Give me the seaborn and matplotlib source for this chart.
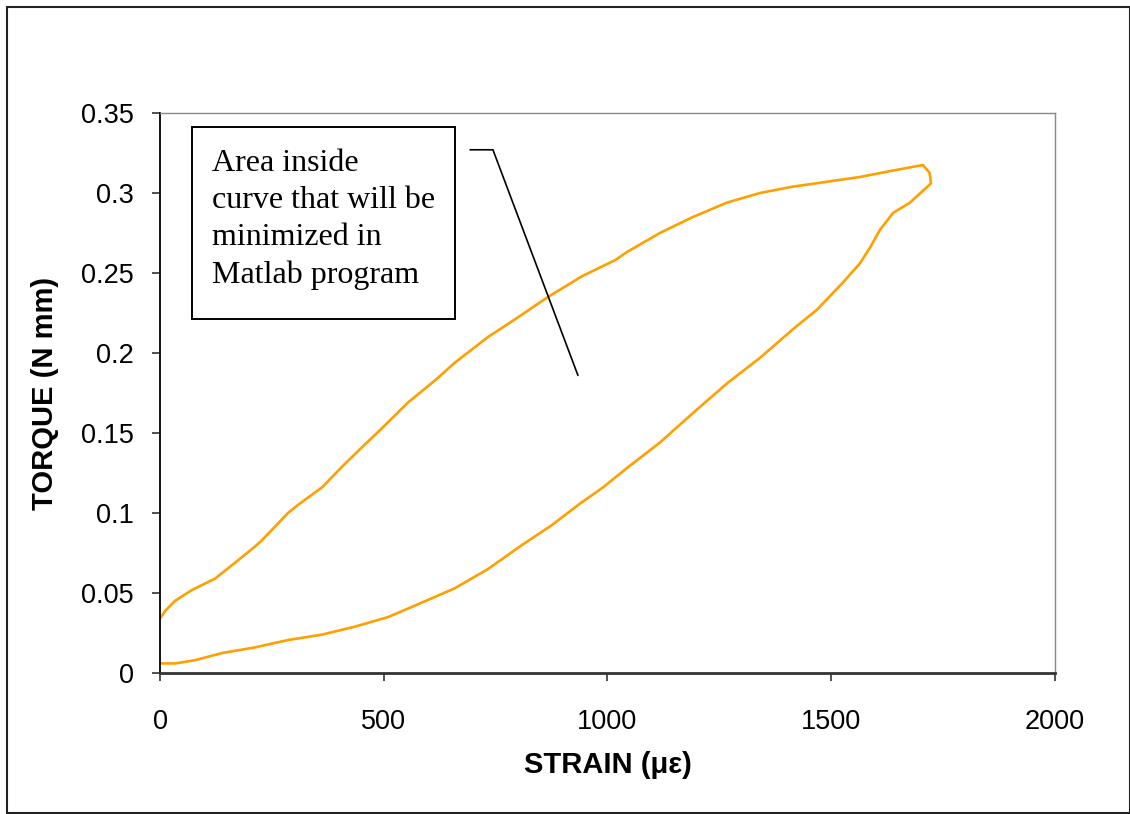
import matplotlib
matplotlib.use("Agg")
import matplotlib.pyplot as plt
from matplotlib.patches import Rectangle
import pandas as pd
import seaborn as sns

# Loading branch (strain in micro-strain, torque in N mm)
upper_strain = [0, 12, 33, 72, 123, 168, 212, 228, 286, 308, 362, 407, 451, 496, 554,
                615, 659, 733, 793, 867, 943, 1017, 1043, 1117, 1191, 1267, 1341,
                1415, 1490, 1564, 1638, 1676, 1705, 1720, 1723]
upper_torque = [0.034, 0.039, 0.045, 0.052, 0.059, 0.069, 0.079, 0.083, 0.100, 0.105,
                0.116, 0.129, 0.141, 0.153, 0.169, 0.183, 0.194, 0.210, 0.221, 0.235,
                0.248, 0.258, 0.263, 0.275, 0.285, 0.294, 0.300, 0.304, 0.307, 0.310,
                0.314, 0.316, 0.3175, 0.3125, 0.306]

# Unloading branch
lower_strain = [1723, 1676, 1638, 1609, 1587, 1564, 1526, 1468, 1415, 1341, 1267, 1191,
                1117, 1043, 990, 939, 876, 809, 733, 659, 585, 510, 436, 362, 286, 212,
                139, 78, 34, 0]
lower_torque = [0.306, 0.294, 0.2875, 0.277, 0.266, 0.256, 0.244, 0.227, 0.215, 0.197,
                0.181, 0.1625, 0.144, 0.128, 0.116, 0.106, 0.0925, 0.080, 0.065, 0.053,
                0.044, 0.035, 0.029, 0.024, 0.0206, 0.016, 0.0125, 0.008, 0.006, 0.006]

x_ticks = [0, 500, 1000, 1500, 2000]
y_ticks = [0, 0.05, 0.1, 0.15, 0.2, 0.25, 0.3, 0.35]
y_tick_labels = ["0", "0.05", "0.1", "0.15", "0.2", "0.25", "0.3", "0.35"]

note_text = "Area inside\ncurve that will be\nminimized in\nMatlab program"

sns.set_style("ticks")
plt.rcParams["font.family"] = ["Liberation Sans", "DejaVu Sans"]
plt.rcParams["text.color"] = "black"
plt.rcParams["axes.labelcolor"] = "black"

loop = pd.DataFrame({
    "strain": upper_strain + lower_strain,
    "torque": upper_torque + lower_torque,
})

fig = plt.figure(figsize=(11.3, 8.14), dpi=100)
ax = fig.add_axes([0.1416, 0.1732, 0.7920, 0.6880])

sns.lineplot(data=loop, x="strain", y="torque", sort=False, estimator=None,
             color="#FF9F00", linewidth=1.9, ax=ax)

ax.set_xlim(0, 2000)
ax.set_ylim(0, 0.35)
ax.set_xticks(x_ticks)
ax.set_xticklabels([str(v) for v in x_ticks])
ax.set_yticks(y_ticks)
ax.set_yticklabels(y_tick_labels)
ax.tick_params(axis="both", direction="out", length=6, width=1.2, color="#333333",
               labelsize=19.5, labelcolor="black")
ax.tick_params(axis="x", pad=20)
ax.tick_params(axis="y", pad=13)

for side in ("top", "right"):
    ax.spines[side].set_visible(True)
    ax.spines[side].set_color("#888888")
    ax.spines[side].set_linewidth(1.0)
ax.spines["left"].set_color("black")
ax.spines["left"].set_linewidth(1.3)
ax.spines["bottom"].set_color("#333333")
ax.spines["bottom"].set_linewidth(2.0)

ax.set_xlabel("STRAIN (\u03bc\u03b5)", fontsize=21, fontweight="bold", va="center",
              color="black")
ax.set_ylabel("TORQUE (N mm)", fontsize=21, fontweight="bold", va="center",
              color="black")
ax.xaxis.set_label_coords(0.5, -0.164)
ax.yaxis.set_label_coords(-0.1285, 0.5)

# Callout box with leader line
ax.add_patch(Rectangle((71.5, 0.221), 587.5, 0.120, fill=False, edgecolor="black",
                       linewidth=1.4, zorder=3))
ax.text(116, 0.2438, note_text, fontsize=23, family=["Liberation Serif", "DejaVu Serif"],
        va="baseline", ha="left", linespacing=1.36, color="black", zorder=4)
ax.plot([693, 744, 934], [0.327, 0.327, 0.186], color="black", linewidth=1.2, zorder=4)

# Outer chart frame
fig.add_artist(Rectangle((6.5 / 1130, 1.5 / 814), (1129.5 - 6.5) / 1130, (807.5 - 1.5) / 814,
                         transform=fig.transFigure, fill=False, edgecolor="#222222",
                         linewidth=1.5))

fig.savefig("out.png", dpi=100)
